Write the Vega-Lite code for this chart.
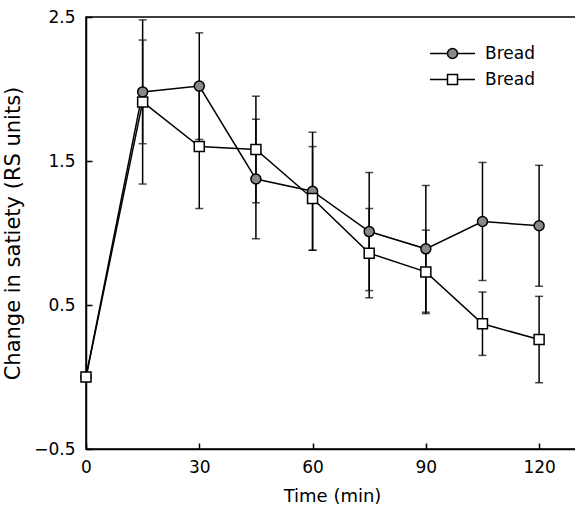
{
  "$schema": "https://vega.github.io/schema/vega-lite/v6.json",
  "width": 492,
  "height": 432,
  "autosize": "none",
  "padding": {"left": 86, "top": 17, "right": 0, "bottom": 64},
  "background": "white",
  "config": {
    "font": "DejaVu Sans",
    "view": {"stroke": "black", "strokeWidth": 1.5},
    "axis": {"grid": false, "domainColor": "black", "domainWidth": 1.5, "tickColor": "black", "tickWidth": 1.5, "labelColor": "black", "titleColor": "black", "labelFont": "DejaVu Sans", "titleFont": "DejaVu Sans", "titleFontWeight": "normal"}
  },
  "data": {
    "values": [
      {"t": 0, "s": "A", "v": 0, "lo": null, "hi": null},
      {"t": 15, "s": "A", "v": 1.98, "lo": 1.62, "hi": 2.34},
      {"t": 30, "s": "A", "v": 2.02, "lo": 1.65, "hi": 2.39},
      {"t": 45, "s": "A", "v": 1.375, "lo": 0.96, "hi": 1.79},
      {"t": 60, "s": "A", "v": 1.29, "lo": 0.88, "hi": 1.70},
      {"t": 75, "s": "A", "v": 1.01, "lo": 0.60, "hi": 1.42},
      {"t": 90, "s": "A", "v": 0.89, "lo": 0.45, "hi": 1.33},
      {"t": 105, "s": "A", "v": 1.08, "lo": 0.67, "hi": 1.49},
      {"t": 120, "s": "A", "v": 1.05, "lo": 0.63, "hi": 1.47},
      {"t": 0, "s": "B", "v": 0, "lo": null, "hi": null},
      {"t": 15, "s": "B", "v": 1.91, "lo": 1.34, "hi": 2.48},
      {"t": 30, "s": "B", "v": 1.60, "lo": 1.17, "hi": 2.03},
      {"t": 45, "s": "B", "v": 1.58, "lo": 1.21, "hi": 1.95},
      {"t": 60, "s": "B", "v": 1.24, "lo": 0.88, "hi": 1.60},
      {"t": 75, "s": "B", "v": 0.86, "lo": 0.55, "hi": 1.17},
      {"t": 90, "s": "B", "v": 0.73, "lo": 0.44, "hi": 1.02},
      {"t": 105, "s": "B", "v": 0.37, "lo": 0.15, "hi": 0.59},
      {"t": 120, "s": "B", "v": 0.26, "lo": -0.04, "hi": 0.56}
    ]
  },
  "encoding": {
    "x": {
      "field": "t", "type": "quantitative",
      "scale": {"domain": [0, 130.3], "nice": false, "zero": false},
      "axis": {"values": [0, 30, 60, 90, 120], "title": "Time (min)", "titleFontSize": 18, "labelFontSize": 17, "tickSize": -6, "labelPadding": 16, "titlePadding": 12, "labelFlush": false}
    }
  },
  "resolve": {"scale": {"shape": "independent", "fill": "independent"}, "legend": {"shape": "independent", "fill": "independent"}},
  "layer": [
    {
      "mark": {"type": "point", "filled": false, "stroke": "black", "strokeWidth": 1.5, "size": 100, "opacity": 0},
      "encoding": {
        "y": {"field": "v", "type": "quantitative", "title": "Change in satiety (RS units)"},
        "shape": {
          "field": "s", "type": "nominal",
          "scale": {"domain": ["A", "B"], "range": ["M-4.5,0H-1M1,0H4.5M-1,0A1,1,0,1,0,1,0A1,1,0,1,0,-1,0Z", "M-4.5,0H-1M1,0H4.5M-1,-1H1V1H-1Z"]},
          "legend": {
            "title": null, "orient": "none", "legendX": 358, "legendY": 28, "padding": 0,
            "labelExpr": "'Bread'", "labelFontSize": 17, "labelFont": "DejaVu Sans", "labelColor": "black", "labelOffset": 24, "rowPadding": 8, "symbolSize": 100, "symbolStrokeWidth": 1.5, "symbolOpacity": 1,
            "encode": {"symbols": {
              "stroke": {"value": "black"},
              "strokeWidth": {"value": 1.5},
              "opacity": {"value": 1}
            }}
          }
        },
        "fill": {
          "field": "s", "type": "nominal",
          "scale": {"domain": ["A", "B"], "range": ["#888888", "#ffffff"]},
          "legend": null
        }
      }
    },
    {
      "transform": [{"filter": "datum.lo != null"}],
      "mark": {"type": "errorbar", "ticks": {"size": 8, "thickness": 1.5, "color": "black"}, "rule": {"strokeWidth": 1.5, "color": "black"}},
      "encoding": {
        "y": {"field": "lo", "type": "quantitative", "title": "Change in satiety (RS units)", "scale": {"domain": [-0.5, 2.5], "nice": false, "zero": false}},
        "y2": {"field": "hi"},
        "detail": {"field": "s"}
      }
    },
    {
      "mark": {"type": "line", "color": "black", "strokeWidth": 1.5},
      "encoding": {
        "y": {"field": "v", "type": "quantitative", "title": "Change in satiety (RS units)"},
        "detail": {"field": "s"}
      }
    },
    {
      "mark": {"type": "point", "filled": false, "stroke": "black", "strokeWidth": 1.5, "size": 100, "opacity": 1},
      "encoding": {
        "y": {
          "field": "v", "type": "quantitative", "title": "Change in satiety (RS units)",
          "scale": {"domain": [-0.5, 2.5], "nice": false, "zero": false},
          "axis": {"values": [-0.5, 0.5, 1.5, 2.5], "format": ".1f", "titleFontSize": 21, "labelFontSize": 17, "tickSize": -6, "labelPadding": 17, "titlePadding": 10}
        },
        "shape": {
          "field": "s", "type": "nominal",
          "scale": {"domain": ["A", "B"], "range": ["circle", "square"]},
          "legend": null
        },
        "fill": {
          "field": "s", "type": "nominal",
          "scale": {"domain": ["A", "B"], "range": ["#888888", "#ffffff"]},
          "legend": null
        }
      }
    }
  ]
}
